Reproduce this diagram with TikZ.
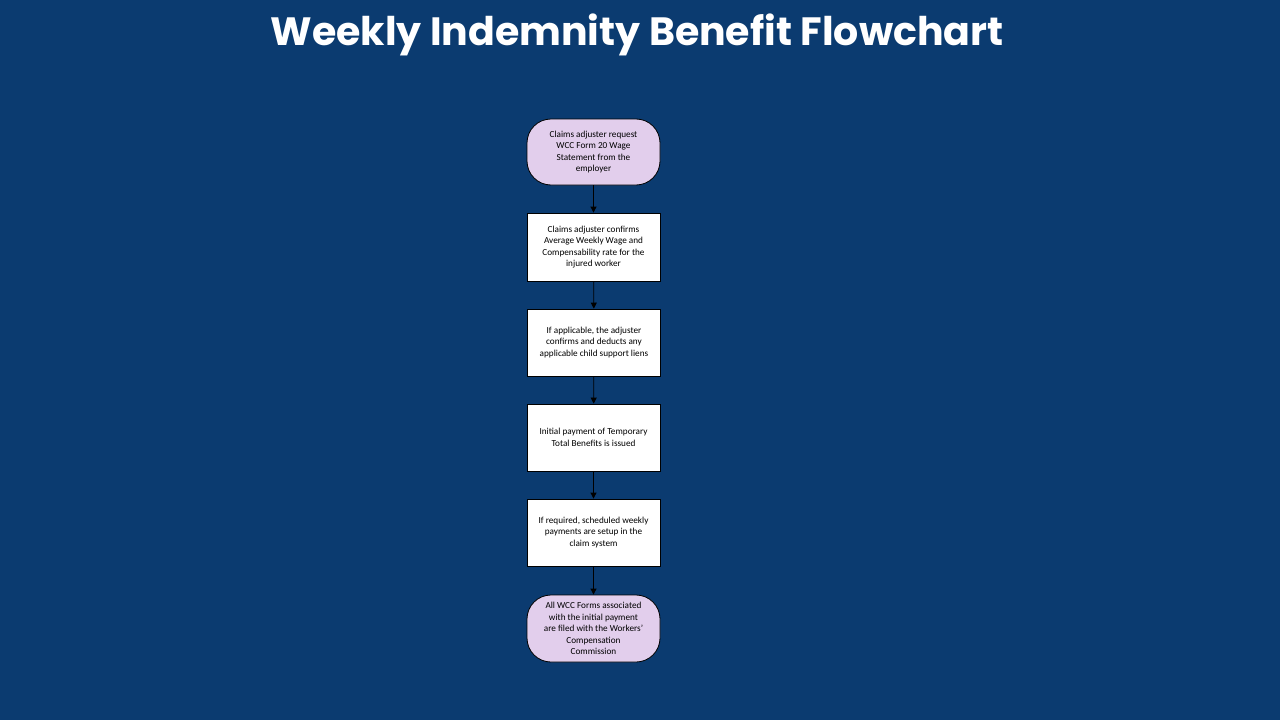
\documentclass[tikz,border=0pt]{standalone}
\usepackage{fontspec}
\setmainfont{Carlito}
\newfontfamily\titlefont{Poppins}
\usetikzlibrary{arrows.meta}
\definecolor{bg}{RGB}{11,59,112}
\definecolor{lav}{RGB}{226,206,236}
\tikzset{
  x=1pt,y=-1pt,
  base/.style={draw=black, line width=0.8pt, minimum width=133pt, align=center, font=\fontsize{9.2}{11.6}\selectfont, inner sep=2pt},
  stepbox/.style={base, fill=white, minimum height=67pt},
  termbox/.style={base, fill=lav, minimum height=66pt, rounded corners=24pt},
  conn/.style={draw=black, line width=0.8pt, -{Triangle[length=6pt,width=6pt]}}
}
\begin{document}
\begin{tikzpicture}
\fill[bg] (0,0) rectangle (1280,720);
\useasboundingbox (0,0) rectangle (1280,720);
\node[font=\titlefont\fontsize{39.5}{46}\selectfont\bfseries, text=white] (title) at (637,35) {Weekly Indemnity Benefit Flowchart};
\node[termbox] (n1) at (593.5,152) {Claims adjuster request\\WCC Form 20 Wage\\Statement from the\\employer};
\node[stepbox, minimum height=68pt] (n2) at (593.5,247) {Claims adjuster confirms\\Average Weekly Wage and\\Compensability rate for the\\injured worker};
\node[stepbox] (n3) at (594,342.5) {If applicable, the adjuster\\confirms and deducts any\\applicable child support liens};
\node[stepbox] (n4) at (593.5,437.5) {Initial payment of Temporary\\Total Benefits is issued};
\node[stepbox] (n5) at (593.5,532.5) {If required, scheduled weekly\\payments are setup in the\\claim system};
\node[termbox, minimum height=67pt] (n6) at (593.5,628.5) {All WCC Forms associated\\with the initial payment\\are filed with the Workers'\\Compensation\\Commission};
\draw[conn] (n1) -- (n2);
\draw[conn] (n2) -- (n3);
\draw[conn] (n3) -- (n4);
\draw[conn] (n4) -- (n5);
\draw[conn] (n5) -- (n6);
\end{tikzpicture}
\end{document}
